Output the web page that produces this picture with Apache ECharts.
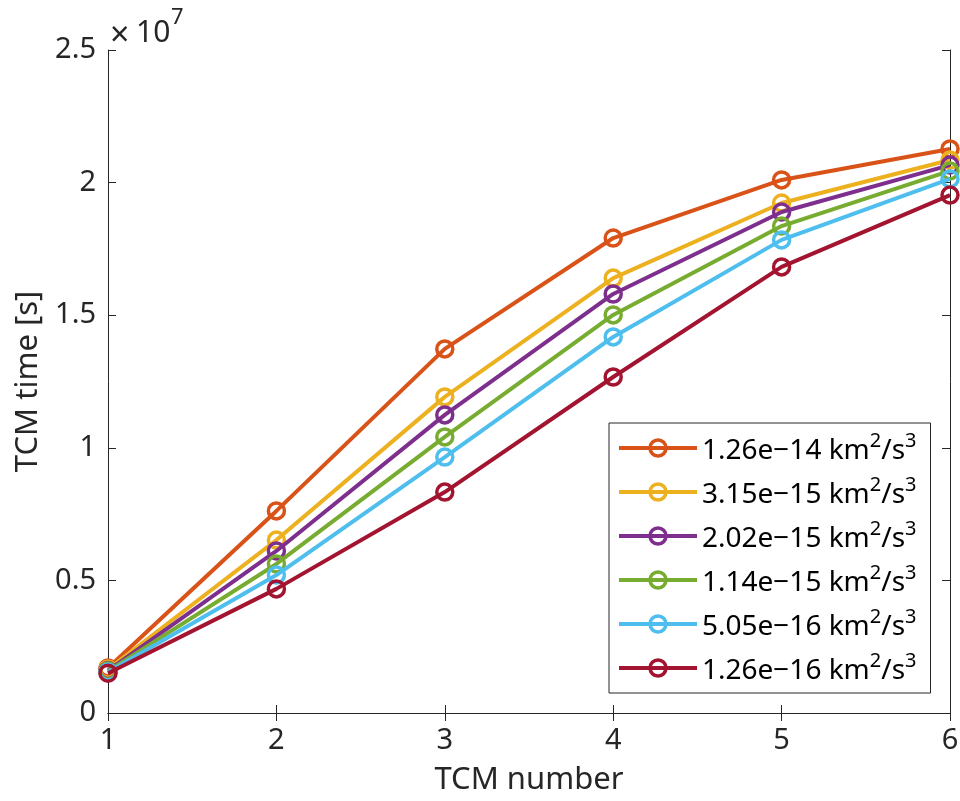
<!DOCTYPE html>
<html>
<head>
<meta charset="utf-8">
<script src="https://cdn.jsdelivr.net/npm/echarts@6/dist/echarts.min.js"></script>
<style>
  html, body { margin: 0; padding: 0; background: #fff; }
  #chart { width: 960px; height: 801px; }
</style>
</head>
<body>
<div id="chart"></div>
<script>
// TCM number on the x axis
let tcmNumbers = [1, 2, 3, 4, 5, 6]
// y values in units of 1e7 s
let yTicks = [0, 0.5, 1, 1.5, 2, 2.5]

let seriesNames = ['1.26e-14', '3.15e-15', '2.02e-15', '1.14e-15', '5.05e-16', '1.26e-16']
let seriesColors = ['#D95319', '#EDB120', '#7E2F8E', '#77AC30', '#4DBEEE', '#A2142F']

let s1 = [0.170, 0.762, 1.373, 1.791, 2.010, 2.127]
let s2 = [0.165, 0.652, 1.192, 1.640, 1.923, 2.085]
let s3 = [0.160, 0.611, 1.124, 1.580, 1.889, 2.066]
let s4 = [0.158, 0.562, 1.041, 1.501, 1.836, 2.044]
let s5 = [0.155, 0.520, 0.965, 1.418, 1.784, 2.014]
let s6 = [0.150, 0.468, 0.833, 1.267, 1.682, 1.953]
let allValues = [s1, s2, s3, s4, s5, s6]

const textColor = '#262626'
const fontFam = '"Noto Sans", sans-serif'

let series = []
for (let i = 0; i < seriesNames.length; i++) {
    let pts = []
    for (let j = 0; j < tcmNumbers.length; j++) {
        pts.push([tcmNumbers[j], allValues[i][j]])
    }
    series.push({
        name: seriesNames[i],
        type: 'line',
        data: pts,
        symbol: 'circle',
        symbolSize: 16,
        showAllSymbol: true,
        color: seriesColors[i],
        lineStyle: {color: seriesColors[i], width: 4},
        itemStyle: {color: 'rgba(255,255,255,0)', borderColor: seriesColors[i], borderWidth: 3.5},
        emphasis: {disabled: true},
        xAxisIndex: 0,
        yAxisIndex: 0,
        z: 2 + i
    })
}

let tickMark = {show: true, inside: true, length: 8, lineStyle: {color: textColor, width: 1}}
let axisLineStyle = {show: true, lineStyle: {color: textColor, width: 1}}

let option = {
    animation: false,
    backgroundColor: '#fff',
    grid: {left: 108, right: 10, top: 50, bottom: 88, outerBoundsMode: 'none', containLabel: false},
    xAxis: [{
        type: 'value',
        min: 1, max: 6, interval: 1,
        name: 'TCM number',
        nameLocation: 'middle',
        nameGap: 52,
        nameTextStyle: {color: textColor, fontSize: 31, fontFamily: fontFam},
        axisLine: axisLineStyle,
        axisTick: tickMark,
        splitLine: {show: false},
        axisLabel: {color: textColor, fontSize: 29, fontFamily: fontFam, margin: 13}
    }, {
        type: 'value',
        position: 'top',
        min: 1, max: 6, interval: 1,
        axisLine: axisLineStyle,
        axisTick: tickMark,
        splitLine: {show: false},
        axisLabel: {show: false}
    }],
    yAxis: [{
        type: 'value',
        min: 0, max: 2.5, interval: 0.5,
        name: 'TCM time [s]',
        nameLocation: 'middle',
        nameGap: 64,
        nameTextStyle: {color: textColor, fontSize: 31, fontFamily: fontFam},
        axisLine: axisLineStyle,
        axisTick: tickMark,
        splitLine: {show: false},
        axisLabel: {
            color: textColor, fontSize: 29, fontFamily: fontFam, margin: 12,
            formatter: function (v) {
                return yTicks.indexOf(v) >= 0 ? String(v) : ''
            }
        }
    }, {
        type: 'value',
        position: 'right',
        min: 0, max: 2.5, interval: 0.5,
        axisLine: axisLineStyle,
        axisTick: tickMark,
        splitLine: {show: false},
        axisLabel: {show: false}
    }],
    legend: {
        orient: 'vertical',
        left: 609,
        top: 423,
        padding: [8, 14, 8, 8],
        itemGap: 10,
        itemWidth: 78,
        itemHeight: 20,
        backgroundColor: '#fff',
        borderColor: textColor,
        borderWidth: 1,
        borderRadius: 0,
        selectedMode: false,
        lineStyle: {width: 4},
        itemStyle: {borderWidth: 3.5},
        data: seriesNames,
        formatter: function (name) {
            return '{n|' + name.replace('-', '\u2212') + ' km}{s|2}{n|/s}{s|3}'
        },
        textStyle: {
            color: '#000',
            fontFamily: fontFam,
            padding: [0, 0, 0, 0],
            rich: {
                n: {fontSize: 28, fontFamily: fontFam, color: '#000', verticalAlign: 'bottom', lineHeight: 34},
                s: {fontSize: 20, fontFamily: fontFam, color: '#000', verticalAlign: 'top', lineHeight: 16}
            }
        }
    },
    graphic: [{
        type: 'text',
        x: 110,
        y: 36,
        style: {text: '\u00d7', fontSize: 34, fontFamily: fontFam, fill: textColor, verticalAlign: 'middle'}
    }, {
        type: 'text',
        x: 136,
        y: 33,
        style: {text: '10', fontSize: 30, fontFamily: fontFam, fill: textColor, verticalAlign: 'middle'}
    }, {
        type: 'text',
        x: 171,
        y: 18,
        style: {text: '7', fontSize: 22, fontFamily: fontFam, fill: textColor, verticalAlign: 'middle'}
    }],
    series: series
}

var myChart = echarts.init(document.getElementById('chart'))
myChart.setOption(option)
</script>
</body>
</html>
